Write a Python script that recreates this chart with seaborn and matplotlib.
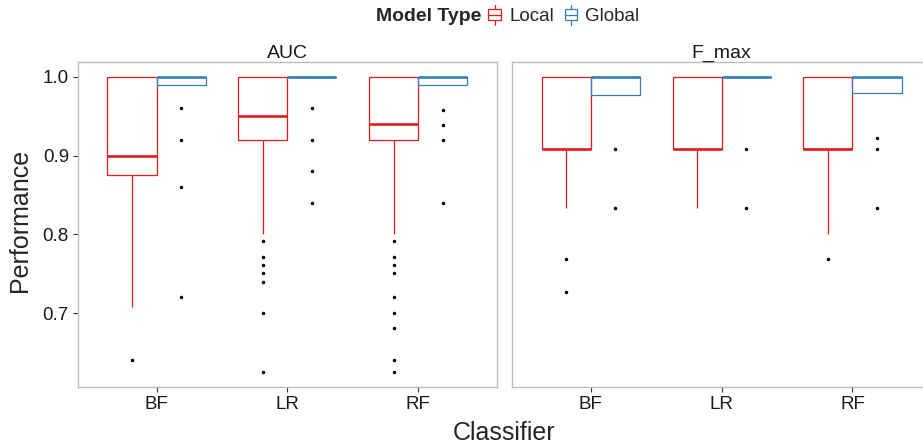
import pandas as pd
import matplotlib
matplotlib.use("Agg")
import matplotlib.pyplot as plt
import seaborn as sns
from matplotlib.legend_handler import HandlerBase
from matplotlib.patches import Patch, Rectangle
from matplotlib.lines import Line2D

# categories
classifiers = ["BF", "LR", "RF"]
model_types = ["Local", "Global"]
metrics = ["AUC", "F_max"]
colors = {"Local": "#E41A1C", "Global": "#377EB8"}

# per-group performance values
auc_bf_local = [0.64, 0.708, 0.875, 0.88, 0.90, 0.95, 1.0, 1.0, 1.0]
auc_bf_global = [0.72, 0.86, 0.92, 0.96, 0.99, 0.99,
                 1.0, 1.0, 1.0, 1.0, 1.0, 1.0, 1.0, 1.0, 1.0, 1.0, 1.0]
auc_lr_local = [0.625, 0.70, 0.74, 0.751, 0.761, 0.771, 0.792, 0.801,
                0.92, 0.92, 0.93, 0.93, 0.94, 0.94, 0.95, 0.95, 0.95,
                0.96, 0.97, 0.97, 0.98, 0.99, 0.99, 1.0,
                1.0, 1.0, 1.0, 1.0, 1.0, 1.0, 1.0, 1.0, 1.0]
auc_lr_global = [0.84, 0.88, 0.92, 0.96,
                 1.0, 1.0, 1.0, 1.0, 1.0, 1.0, 1.0, 1.0, 1.0, 1.0, 1.0, 1.0, 1.0]
auc_rf_local = [0.625, 0.64, 0.681, 0.70, 0.72, 0.751, 0.761, 0.771, 0.792, 0.801,
                0.92, 0.92, 0.92, 0.93, 0.93, 0.93, 0.93, 0.94, 0.94, 0.94, 0.94,
                0.95, 0.96, 0.96, 0.97, 0.97, 0.98, 0.99, 0.99, 1.0,
                1.0, 1.0, 1.0, 1.0, 1.0, 1.0, 1.0, 1.0, 1.0, 1.0, 1.0]
auc_rf_global = [0.84, 0.92, 0.939, 0.958, 0.99, 0.99,
                 1.0, 1.0, 1.0, 1.0, 1.0, 1.0, 1.0, 1.0, 1.0, 1.0, 1.0]

fmax_bf_local = [0.727, 0.769, 0.833, 0.909, 0.909, 0.909, 0.909,
                 0.95, 0.95, 1.0, 1.0, 1.0, 1.0]
fmax_bf_global = [0.833, 0.909, 0.977, 0.99, 1.0, 1.0, 1.0, 1.0, 1.0]
fmax_lr_local = [0.833, 0.909, 0.909, 0.909, 0.909, 0.95, 1.0, 1.0, 1.0]
fmax_lr_global = [0.833, 0.909, 1.0, 1.0, 1.0, 1.0, 1.0, 1.0, 1.0]
fmax_rf_local = [0.769, 0.801, 0.909, 0.909, 0.909, 0.95, 1.0, 1.0, 1.0]
fmax_rf_global = [0.833, 0.909, 0.923, 0.98, 0.99,
                  1.0, 1.0, 1.0, 1.0, 1.0, 1.0, 1.0, 1.0]

groups = {
    ("AUC", "BF", "Local"): auc_bf_local,
    ("AUC", "BF", "Global"): auc_bf_global,
    ("AUC", "LR", "Local"): auc_lr_local,
    ("AUC", "LR", "Global"): auc_lr_global,
    ("AUC", "RF", "Local"): auc_rf_local,
    ("AUC", "RF", "Global"): auc_rf_global,
    ("F_max", "BF", "Local"): fmax_bf_local,
    ("F_max", "BF", "Global"): fmax_bf_global,
    ("F_max", "LR", "Local"): fmax_lr_local,
    ("F_max", "LR", "Global"): fmax_lr_global,
    ("F_max", "RF", "Local"): fmax_rf_local,
    ("F_max", "RF", "Global"): fmax_rf_global,
}
rows = []
for (metric, clf, mt), vals in groups.items():
    for v in vals:
        rows.append((metric, clf, mt, v))
df = pd.DataFrame(rows, columns=["Metric", "Classifier", "Model Type", "Performance"])

sns.set_style("white")
plt.rcParams["font.family"] = ["Liberation Sans", "DejaVu Sans"]

W, H = 923, 443
fig = plt.figure(figsize=(W / 100, H / 100), dpi=100)


def px_axes(left, top, right, bottom):
    return fig.add_axes([left / W, 1 - bottom / H, (right - left) / W, (bottom - top) / H])


ax1 = px_axes(78, 62, 496.7, 386.7)
ax2 = px_axes(512.3, 62, 931, 386.7)

for ax, metric in zip([ax1, ax2], metrics):
    sns.boxplot(data=df[df["Metric"] == metric], x="Classifier", y="Performance",
                hue="Model Type", order=classifiers, hue_order=model_types,
                palette=colors, fill=False, width=0.75, gap=0, linewidth=0.9,
                showcaps=False, whis=1.5, medianprops=dict(linewidth=1.9),
                flierprops=dict(marker="o", markersize=1.5, markerfacecolor="black",
                                markeredgecolor="black"),
                legend=False, ax=ax)
    ax.set_xlim(-0.6, 2.6)
    ax.set_ylim(0.6065, 1.019)
    ax.set_xlabel("")
    ax.set_ylabel("")
    ax.set_xticks(range(3))
    ax.set_xticklabels(classifiers)
    ax.set_yticks([0.7, 0.8, 0.9, 1.0])
    ax.set_yticklabels(["0.7", "0.8", "0.9", "1.0"])
    for s in ax.spines.values():
        s.set_visible(True)
        s.set_color("#BEBEBE")
        s.set_linewidth(1.0)
    ax.tick_params(axis="both", bottom=True, left=True, length=3.5, width=0.8,
                   color="#333333", labelsize=13.5, labelcolor="#1a1a1a", pad=3)
    ax.grid(False)

ax2.tick_params(axis="y", left=False, labelleft=False)

# facet strip titles
fig.text(287.4 / W, 1 - 57.7 / H, "AUC", ha="center", va="baseline", fontsize=14, color="#1a1a1a")
fig.text(721.6 / W, 1 - 57.7 / H, "F_max", ha="center", va="baseline", fontsize=14, color="#1a1a1a")

# axis titles
fig.text(504 / W, 1 - 439.5 / H, "Classifier", ha="center", va="baseline", fontsize=18)
fig.text(20 / W, 1 - 220 / H, "Performance", ha="center", va="center", rotation=90, fontsize=18)


class BoxKey(HandlerBase):
    def create_artists(self, legend, orig_handle, xdescent, ydescent, width, height, fontsize, trans):
        c = orig_handle.get_edgecolor()
        x0, y0 = -xdescent, -ydescent
        box = Rectangle((x0 + 0.1 * width, y0 + 0.2 * height), 0.8 * width, 0.6 * height,
                        facecolor="white", edgecolor=c, lw=0.9, transform=trans)
        xm = x0 + width / 2
        med = Line2D([x0 + 0.1 * width, x0 + 0.9 * width], [y0 + 0.5 * height] * 2,
                     color=c, lw=0.9, transform=trans)
        up = Line2D([xm, xm], [y0 + 0.8 * height, y0 + 1.05 * height], color=c, lw=0.9, transform=trans)
        lo = Line2D([xm, xm], [y0 - 0.05 * height, y0 + 0.2 * height], color=c, lw=0.9, transform=trans)
        return [box, med, up, lo]


fig.text(481.7 / W, 1 - 21 / H, "Model Type", ha="right", va="baseline",
         fontsize=14, fontweight="bold")
handles = [Patch(facecolor="white", edgecolor=colors[m]) for m in model_types]
fig.legend(handles, model_types, loc="center left", bbox_to_anchor=(486.7 / W, 1 - 15.5 / H),
           ncol=2, frameon=False, fontsize=13.5, handlelength=0.85, handleheight=1.1,
           handletextpad=0.34, columnspacing=0.5, borderpad=0, borderaxespad=0,
           handler_map={Patch: BoxKey()})

fig.savefig("out.png", dpi=100)
